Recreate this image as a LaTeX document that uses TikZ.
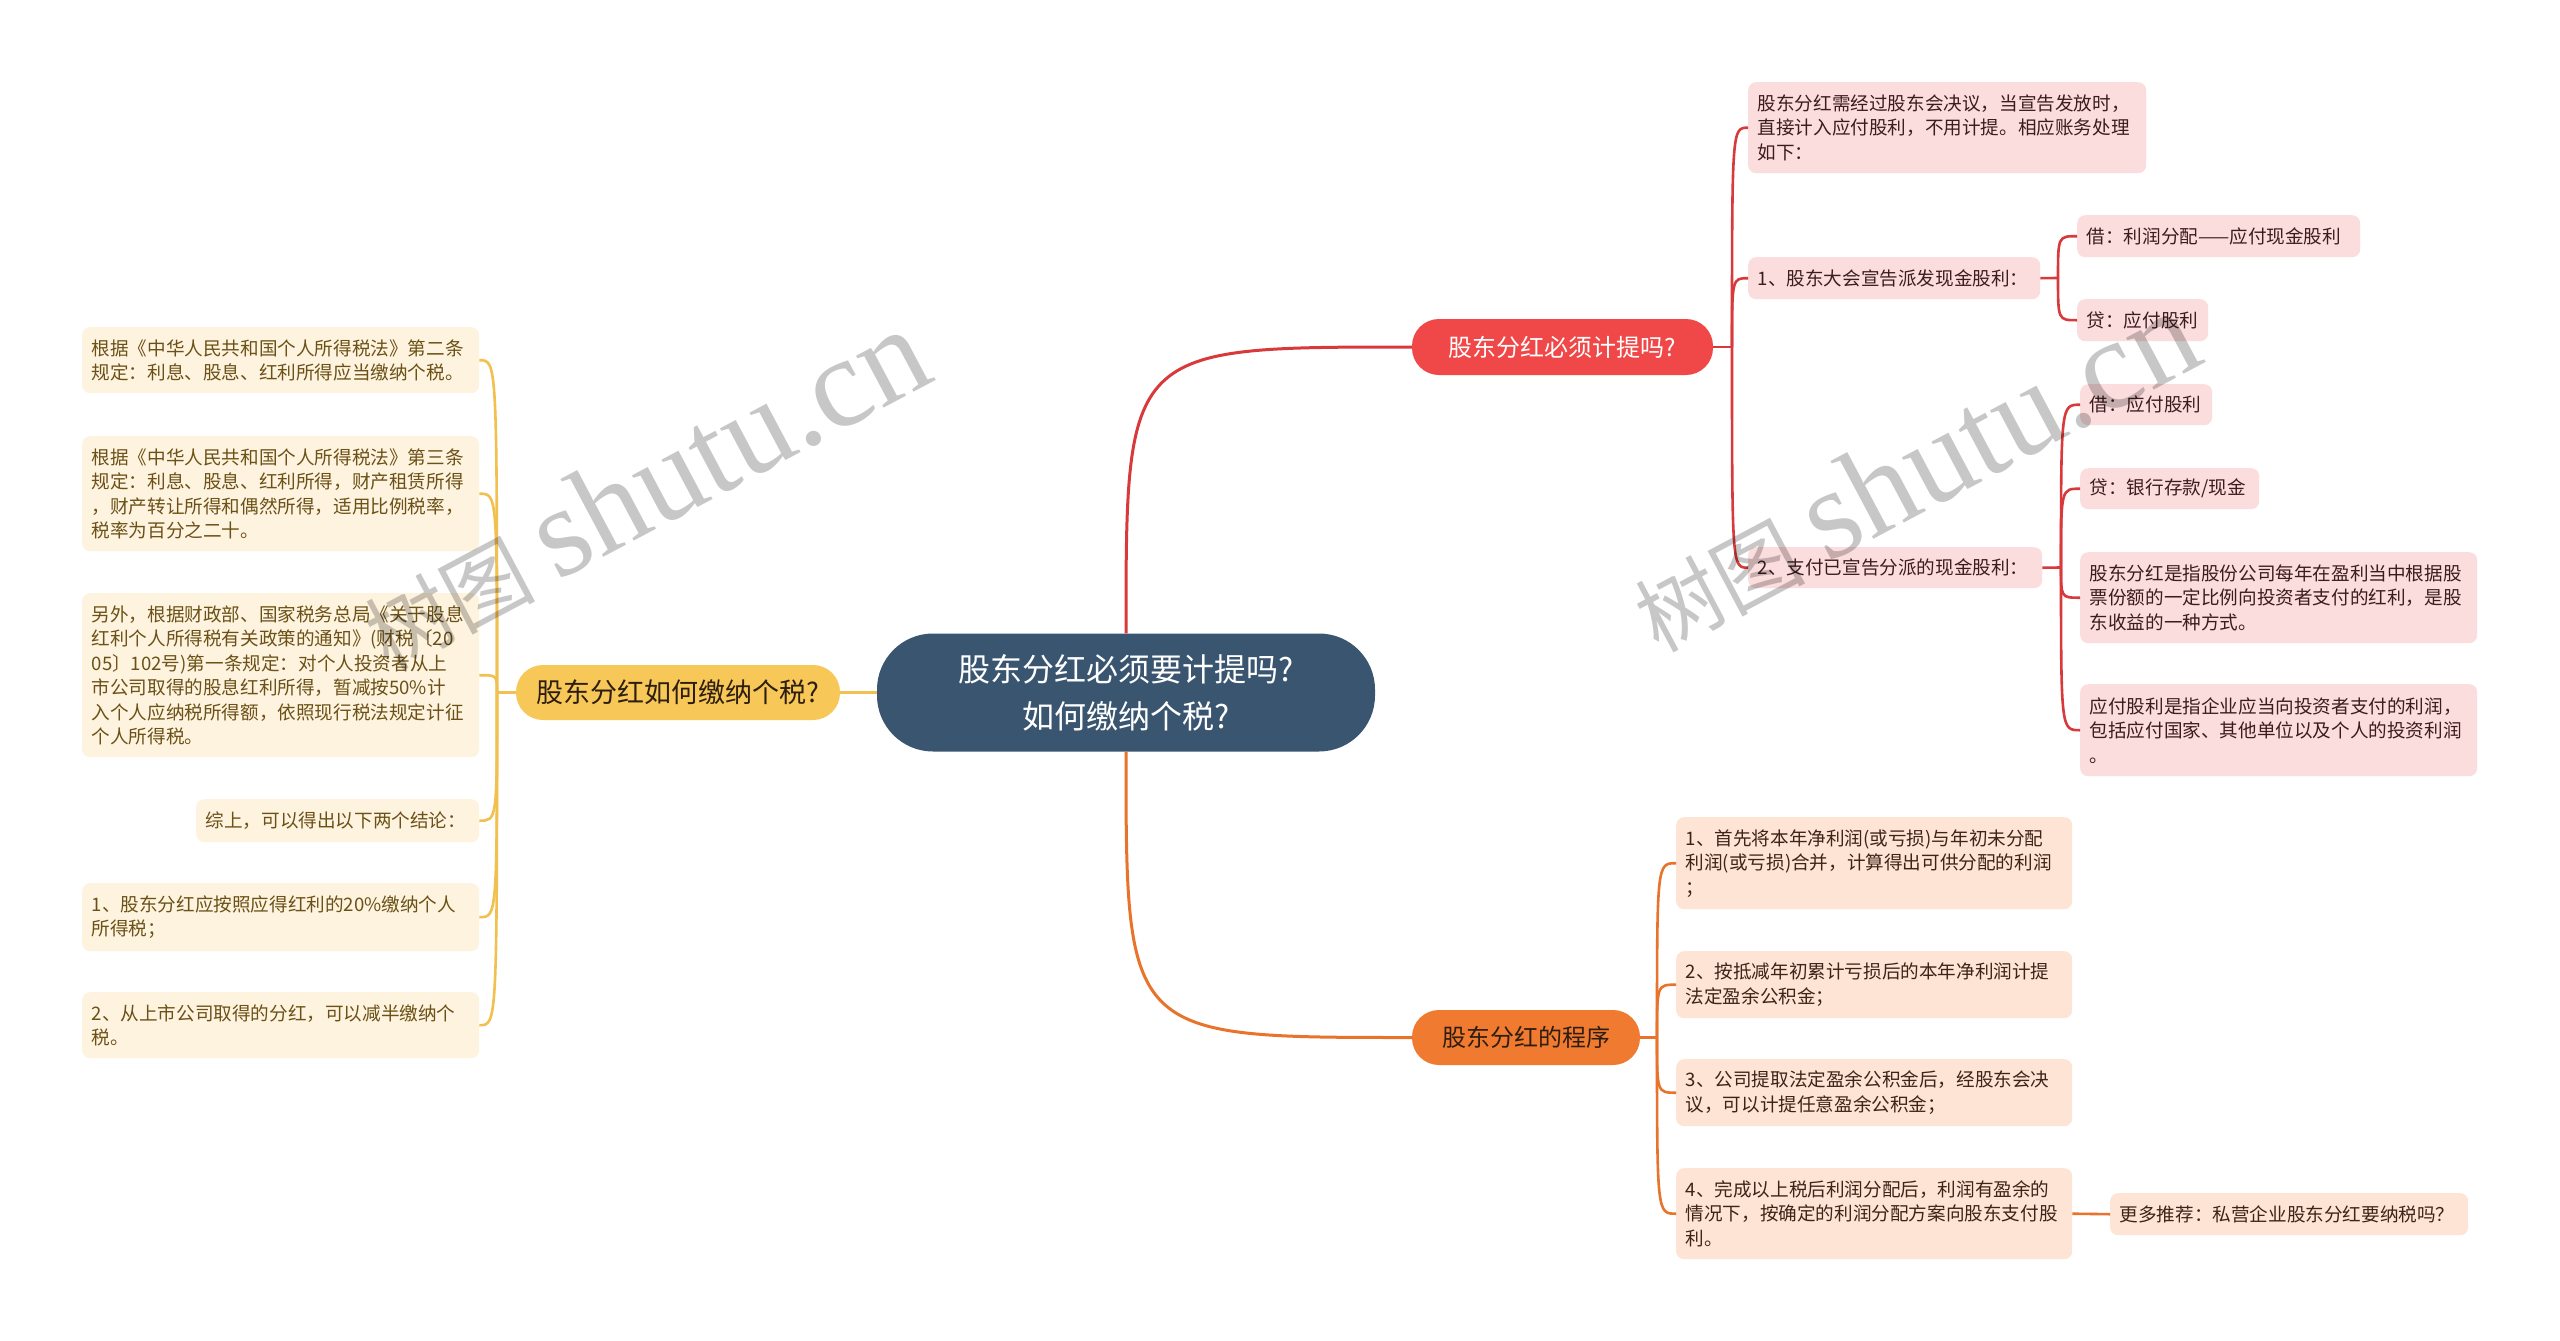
\documentclass[tikz,border=0pt]{standalone}
\usepackage{fontspec}
\setmainfont{Noto Sans CJK SC}
\newfontfamily\wmlatin{Liberation Serif}
\definecolor{centerfill}{HTML}{3A5570}
\definecolor{redfill}{HTML}{F04848}
\definecolor{redline}{HTML}{D83A3C}
\definecolor{pinkfill}{HTML}{FCDDDD}
\definecolor{pinktext}{HTML}{3D1C1C}
\definecolor{orangefill}{HTML}{F07A30}
\definecolor{orangeline}{HTML}{E8742C}
\definecolor{peachfill}{HTML}{FDE4D4}
\definecolor{peachtext}{HTML}{3D2418}
\definecolor{yellowfill}{HTML}{F7C858}
\definecolor{yellowline}{HTML}{F2C04E}
\definecolor{creamfill}{HTML}{FEF3DE}
\definecolor{creamtext}{HTML}{6B5117}
\definecolor{darktext}{HTML}{2E1E10}
\newcommand\leaffont{\fontsize{18.6}{24.5}\selectfont}
\newcommand\branchfont{\fontsize{24}{28}\selectfont}
\newcommand\rootfont{\fontsize{32}{47}\selectfont}
\tikzset{
  rootnode/.style={fill=centerfill, text=white, rounded corners=56pt, minimum width=498pt,
    minimum height=118pt, inner sep=0pt, align=center, font=\rootfont},
  branchnode/.style={rounded corners=27pt, inner sep=0pt, font=\branchfont, align=center},
  leafbase/.style={rounded corners=8pt, inner xsep=9.5pt, inner ysep=3pt, anchor=north west,
    align=left, font=\leaffont},
  pinkbox/.style={leafbase, fill=pinkfill, text=pinktext},
  peachbox/.style={leafbase, fill=peachfill, text=peachtext},
  creambox/.style={leafbase, fill=creamfill, text=creamtext},
  redmain/.style={draw=redline, line width=3pt},
  redsub/.style={draw=redline, line width=2.6pt},
  orangemain/.style={draw=orangeline, line width=3pt},
  orangesub/.style={draw=orangeline, line width=2.6pt},
  yellowmain/.style={draw=yellowline, line width=3pt},
  yellowsub/.style={draw=yellowline, line width=2.6pt},
  wm/.style={text=black, text opacity=0.22, inner sep=0pt, anchor=base west, rotate=28},
}
\newcommand\wmtext{{\fontsize{85}{85}\selectfont 树图}\hspace{22pt}{\wmlatin\fontsize{128}{128}\selectfont shutu.cn}}
\begin{document}
\begin{tikzpicture}[x=1pt,y=-1pt]
\useasboundingbox (0,0) rectangle (2560,1341);
\fill[white] (0,0) rectangle (2560,1341);
\begin{scope}
\clip (0,0) rectangle (2560,1341);

% root and branches
\node[rootnode] (root) at (1126,692.5) {股东分红必须要计提吗?\\如何缴纳个税?};
\node[branchnode, fill=redfill, text=white, minimum width=301pt, minimum height=56pt] (red) at (1562.5,347) {股东分红必须计提吗?};
\node[branchnode, fill=orangefill, text=darktext, minimum width=228pt, minimum height=55pt] (orange) at (1526,1037.5) {股东分红的程序};
\node[branchnode, fill=yellowfill, text=darktext, minimum width=324pt, minimum height=55pt, font=\fontsize{27}{30}\selectfont] (yellow) at (678,692.5) {股东分红如何缴纳个税?};

% red subtree
\node[pinkbox, text width=379pt, minimum height=91pt] (A) at (1748,82) {股东分红需经过股东会决议，当宣告发放时，\\直接计入应付股利，不用计提。相应账务处理\\如下：};
\node[pinkbox, text width=273pt, minimum height=42pt] (B) at (1748,257) {1、股东大会宣告派发现金股利：};
\node[pinkbox, text width=264pt, minimum height=42pt] (C) at (2077,215) {借：利润分配——应付现金股利};
\node[pinkbox, text width=112pt, minimum height=42pt] (D) at (2077,299) {贷：应付股利};
\node[pinkbox, text width=275pt, minimum height=41pt] (I) at (1748,547) {2、支付已宣告分派的现金股利：};
\node[pinkbox, text width=113pt, minimum height=41pt] (E) at (2080,384) {借：应付股利};
\node[pinkbox, text width=160pt, minimum height=41pt] (F) at (2080,468) {贷：银行存款/现金};
\node[pinkbox, text width=378pt, minimum height=91pt] (G) at (2080,552) {股东分红是指股份公司每年在盈利当中根据股\\票份额的一定比例向投资者支付的红利，是股\\东收益的一种方式。};
\node[pinkbox, text width=378pt, minimum height=92pt] (H) at (2080,684) {应付股利是指企业应当向投资者支付的利润，\\包括应付国家、其他单位以及个人的投资利润\\。};

% orange subtree
\node[peachbox, text width=377pt, minimum height=92pt] (J) at (1676,817) {1、首先将本年净利润(或亏损)与年初未分配\\利润(或亏损)合并，计算得出可供分配的利润\\；};
\node[peachbox, text width=377pt, minimum height=67pt] (K) at (1676,951) {2、按抵减年初累计亏损后的本年净利润计提\\法定盈余公积金；};
\node[peachbox, text width=377pt, minimum height=67pt] (L) at (1676,1059) {3、公司提取法定盈余公积金后，经股东会决\\议，可以计提任意盈余公积金；};
\node[peachbox, text width=377pt, minimum height=91pt] (M) at (1676,1168) {4、完成以上税后利润分配后，利润有盈余的\\情况下，按确定的利润分配方案向股东支付股\\利。};
\node[peachbox, text width=339pt, minimum height=42pt] (N) at (2110,1193) {更多推荐：私营企业股东分红要纳税吗？};

% yellow subtree
\node[creambox, text width=378pt, minimum height=66pt] (Y1) at (82,327) {根据《中华人民共和国个人所得税法》第二条\\规定：利息、股息、红利所得应当缴纳个税。};
\node[creambox, text width=378pt, minimum height=115pt] (Y2) at (82,436) {根据《中华人民共和国个人所得税法》第三条\\规定：利息、股息、红利所得，财产租赁所得\\，财产转让所得和偶然所得，适用比例税率，\\税率为百分之二十。};
\node[creambox, text width=378pt, minimum height=164pt] (Y3) at (82,593) {另外，根据财政部、国家税务总局《关于股息\\红利个人所得税有关政策的通知》(财税〔20\\05〕102号)第一条规定：对个人投资者从上\\市公司取得的股息红利所得，暂减按50\%计\\入个人应纳税所得额，依照现行税法规定计征\\个人所得税。};
\node[creambox, text width=264pt, minimum height=43pt] (Y4) at (196,799) {综上，可以得出以下两个结论：};
\node[creambox, text width=378pt, minimum height=68pt] (Y5) at (82,883) {1、股东分红应按照应得红利的20\%缴纳个人\\所得税；};
\node[creambox, text width=378pt, minimum height=66pt] (Y6) at (82,992) {2、从上市公司取得的分红，可以减半缴纳个\\税。};

% main connectors
\draw[redmain] (root.north) .. controls (root.north |- red.west) and (root.north |- red.west) .. (red.west);
\draw[orangemain] (root.south) .. controls (root.south |- orange.west) and (root.south |- orange.west) .. (orange.west);
\draw[yellowmain] (root.west) -- (yellow.east);

% red brackets
\coordinate (rS) at (1732,347);
\draw[redsub] (red.east) -- (rS);
\draw[redsub] (rS) .. controls (rS |- A.west) and (rS |- A.west) .. (A.west);
\draw[redsub] (rS) .. controls (rS |- B.west) and (rS |- B.west) .. (B.west);
\draw[redsub] (rS) .. controls (rS |- I.west) and (rS |- I.west) .. (I.west);
\coordinate (bS) at (2058,278);
\draw[redsub] (B.east) -- (bS);
\draw[redsub] (bS) .. controls (bS |- C.west) and (bS |- C.west) .. (C.west);
\draw[redsub] (bS) .. controls (bS |- D.west) and (bS |- D.west) .. (D.west);
\coordinate (iS) at (2061,567.5);
\draw[redsub] (I.east) -- (iS);
\draw[redsub] (iS) .. controls (iS |- E.west) and (iS |- E.west) .. (E.west);
\draw[redsub] (iS) .. controls (iS |- F.west) and (iS |- F.west) .. (F.west);
\draw[redsub] (iS) .. controls (iS |- G.west) and (iS |- G.west) .. (G.west);
\draw[redsub] (iS) .. controls (iS |- H.west) and (iS |- H.west) .. (H.west);

% orange brackets
\coordinate (oS) at (1657,1037.5);
\draw[orangesub] (orange.east) -- (oS);
\draw[orangesub] (oS) .. controls (oS |- J.west) and (oS |- J.west) .. (J.west);
\draw[orangesub] (oS) .. controls (oS |- K.west) and (oS |- K.west) .. (K.west);
\draw[orangesub] (oS) .. controls (oS |- L.west) and (oS |- L.west) .. (L.west);
\draw[orangesub] (oS) .. controls (oS |- M.west) and (oS |- M.west) .. (M.west);
\draw[orangesub] (M.east) -- (N.west);

% yellow brackets
\coordinate (yS) at (497,692.5);
\draw[yellowsub] (yellow.west) -- (yS);
\draw[yellowsub] (yS) .. controls (yS |- Y1.east) and (yS |- Y1.east) .. (Y1.east);
\draw[yellowsub] (yS) .. controls (yS |- Y2.east) and (yS |- Y2.east) .. (Y2.east);
\draw[yellowsub] (yS) .. controls (yS |- Y3.east) and (yS |- Y3.east) .. (Y3.east);
\draw[yellowsub] (yS) .. controls (yS |- Y4.east) and (yS |- Y4.east) .. (Y4.east);
\draw[yellowsub] (yS) .. controls (yS |- Y5.east) and (yS |- Y5.east) .. (Y5.east);
\draw[yellowsub] (yS) .. controls (yS |- Y6.east) and (yS |- Y6.east) .. (Y6.east);

% watermarks
\node[wm] (wm1) at (388,672) {\wmtext};
\node[wm] (wm2) at (1658,654) {\wmtext};
\end{scope}
\end{tikzpicture}
\end{document}
